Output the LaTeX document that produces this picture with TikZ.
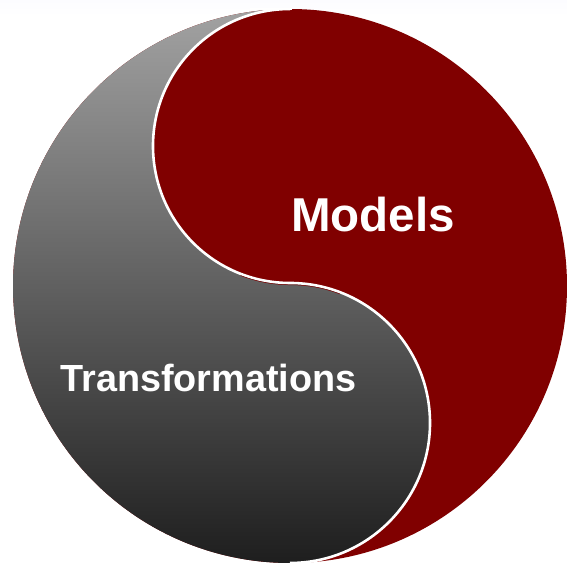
\documentclass[tikz,border=0pt]{standalone}
\usepackage{fontspec}
\setmainfont{Liberation Sans}
\definecolor{modred}{HTML}{800000}
\definecolor{gtop}{HTML}{A2A2A2}
\definecolor{gmid}{HTML}{6C6C6C}
\definecolor{gbot}{HTML}{1E1E1E}
\begin{document}
\begin{tikzpicture}[x=1pt,y=1pt,
  lbl/.style={text=white,font=\bfseries,anchor=base,inner sep=0pt},
  sline/.style={draw=white,line width=2.6pt}]
\useasboundingbox (0,0) rectangle (567,564);
\fill[white] (0,0) rectangle (567,564);
\shade[top color=white!97!blue!40!white, bottom color=white] (0,548) rectangle (567,564);
% whole disc red
\fill[modred] (290,278) circle[radius=277];
% gray half
\shade[top color=gtop, middle color=gmid, bottom color=gbot]
  (290,555) arc[start angle=90, end angle=270, radius=277]
  arc[start angle=-90, end angle=90, radius=140]
  arc[start angle=-90, end angle=-270, radius=137] -- cycle;
% white S boundary
\draw[sline] (290,1) arc[start angle=-90, end angle=90, radius=140]
  arc[start angle=-90, end angle=-270, radius=137];
\draw[modred, line width=0.5pt] (340,270) arc[start angle=69.1, end angle=90, radius=140]
  arc[start angle=-90, end angle=-111.2, radius=137];
\draw[white, line width=2pt] (250,555) -- (292,555);
\node[lbl, font=\bfseries\fontsize{47.5}{47.5}\selectfont] (models) at (373,332) {Models};
\node[lbl, font=\bfseries\fontsize{37.8}{37.8}\selectfont] (trans) at (208.5,172) {Transformations};
\end{tikzpicture}
\end{document}
